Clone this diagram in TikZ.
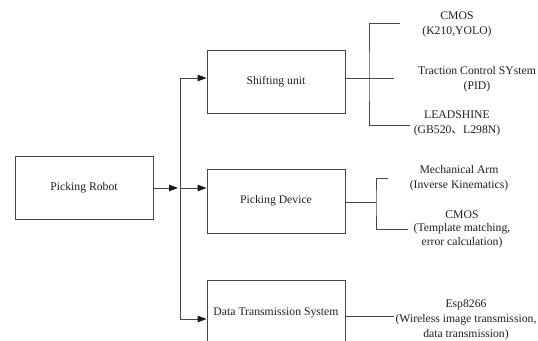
\documentclass[tikz,border=0pt]{standalone}
\usepackage{fontspec}
\setmainfont{Liberation Serif}
\newfontfamily\cjk{Noto Sans CJK SC}
\usetikzlibrary{arrows.meta}
\begin{document}
\begin{tikzpicture}[x=1pt, y=-1pt, color=black!72, line width=0.8pt, every node/.style = {align=center, text=black!88, font=\fontsize{11.7}{14.8}\selectfont}]
	\tikzstyle{box} = [draw=black!72, minimum width=138pt, minimum height=63pt, inner sep=0pt]
	\tikzstyle{leaf} = [inner sep=0pt]
	\tikzstyle{arr} = [-{Triangle[length=9pt,width=6.5pt,color=black!90]}]
	\useasboundingbox (0,0) rectangle (538,340);
	\clip (0,0) rectangle (538,340);
	% blocks
	\node[box] (robot) at (84,188) {Picking Robot};
	\node[box] (shift) at (276,81.5) {Shifting unit};
	\node[box, minimum height=64pt] (dev) at (276,201) {Picking Device};
	\node[box, minimum height=65pt] (data) at (276,312.5) {Data Transmission System};
	% parts
	\node[leaf] (cmosa) at (457,24) {CMOS\\(K210,YOLO)};
	\node[leaf] (trac) at (477,79) {Traction Control SYstem\\(PID)};
	\node[leaf] (lead) at (457,123.5) {LEADSHINE\\(GB520{\cjk 、}L298N)};
	\node[leaf] (arm) at (459,178.5) {Mechanical Arm\\(Inverse Kinematics)};
	\node[leaf, font=\fontsize{11.7}{13.5}\selectfont] (cmosb) at (462,229) {CMOS\\(Template matching,\\error calculation)};
	\node[leaf] (esp) at (466,320) {Esp8266\\(Wireless image transmission,\\data transmission)};
	% trunk
	\coordinate (in) at (178,188);
	\coordinate (jt) at (180,78);
	\coordinate (jm) at (180,188);
	\coordinate (jb) at (180,319);
	\draw[arr] (robot.east |- in) -- (in);
	\draw (jt) -- (jb);
	\draw[arr] (jt) -- (jt -| shift.west);
	\draw[arr] (jm) -- (jm -| dev.west);
	\draw[arr] (jb) -- (jb -| data.west);
	% shifting unit branches
	\coordinate (sj) at (369,78);
	\coordinate (s1) at (400,23);
	\coordinate (s2) at (394,78);
	\coordinate (s3) at (410,125);
	\draw (sj -| shift.east) -- (s2);
	\draw (s1) -| (sj) |- (s3);
	% picking device branches
	\coordinate (dj) at (376,202);
	\coordinate (d1) at (388,178);
	\coordinate (d2) at (408,229);
	\draw (dj -| dev.east) -- (dj);
	\draw (d1) -| (dj) |- (d2);
	% data transmission branch
	\coordinate (e1) at (394,316);
	\draw (e1 -| data.east) -- (e1);
\end{tikzpicture}
\end{document}
